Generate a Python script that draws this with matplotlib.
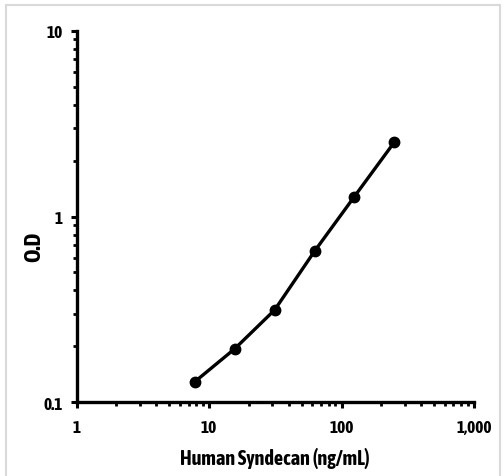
import matplotlib
matplotlib.use("Agg")
import matplotlib.pyplot as plt
from matplotlib.patches import Rectangle
from matplotlib.ticker import FixedLocator, FixedFormatter, LogLocator, NullFormatter

plt.rcParams['font.family'] = ['Asap Condensed', 'DejaVu Sans']
plt.rcParams['font.weight'] = 'bold'

concentration = [7.8, 15.6, 31.25, 62.5, 125, 250]
od = [0.129, 0.194, 0.314, 0.65, 1.28, 2.51]

x_ticks = [1, 10, 100, 1000]
x_tick_labels = ['1', '10', '100', '1,000']
y_ticks = [0.1, 1, 10]
y_tick_labels = ['0.1', '1', '10']

fig = plt.figure(figsize=(5.04, 4.77), dpi=100)
fig.patch.set_facecolor('white')
fig.patches.append(Rectangle((6 / 504, -0.01), (500 - 6) / 504, 1 - 6 / 477 + 0.01,
                             transform=fig.transFigure, fill=False,
                             edgecolor='#d9d9d9', linewidth=1.5))

ax = fig.add_axes([0.152, 0.1545, 0.7885, 0.779])
ax.plot(concentration, od, color='black', linewidth=2.4, marker='o',
        markersize=7.5, markerfacecolor='black', markeredgecolor='black',
        solid_capstyle='round', solid_joinstyle='round')
ax.set_xscale('log')
ax.set_yscale('log')
ax.set_xlim(1, 1000)
ax.set_ylim(0.1, 10)

ax.xaxis.set_major_locator(FixedLocator(x_ticks))
ax.xaxis.set_major_formatter(FixedFormatter(x_tick_labels))
ax.yaxis.set_major_locator(FixedLocator(y_ticks))
ax.yaxis.set_major_formatter(FixedFormatter(y_tick_labels))
ax.xaxis.set_minor_locator(LogLocator(base=10, subs=range(2, 10)))
ax.yaxis.set_minor_locator(LogLocator(base=10, subs=range(2, 10)))
ax.xaxis.set_minor_formatter(NullFormatter())
ax.yaxis.set_minor_formatter(NullFormatter())

for s in ['top', 'right']:
    ax.spines[s].set_visible(False)
for s in ['left', 'bottom']:
    ax.spines[s].set_linewidth(2.4)
    ax.spines[s].set_capstyle('projecting')

ax.tick_params(which='major', direction='out', length=4, width=2.2,
               labelsize=12.5)
ax.tick_params(which='minor', direction='out', length=3, width=2.0)
ax.tick_params(axis='x', which='major', pad=8)
ax.tick_params(axis='y', which='major', pad=6)
for lab in ax.get_xticklabels() + ax.get_yticklabels():
    lab.set_fontweight('bold')

ax.set_xlabel('Human Syndecan (ng/mL)', fontsize=14.5, fontweight='bold')
ax.set_ylabel('O.D', fontsize=16.5, fontweight='bold')
ax.xaxis.set_label_coords(0.5, -0.12)
ax.yaxis.set_label_coords(-0.08, 0.42)

fig.savefig('out.png', dpi=100, facecolor='white')
